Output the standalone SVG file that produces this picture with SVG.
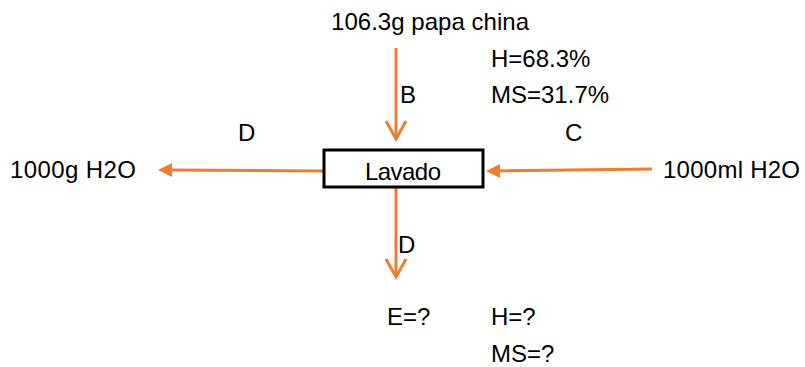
<svg xmlns="http://www.w3.org/2000/svg" width="805" height="367" viewBox="0 0 805 367">
  <style>
    text { font-family: "Liberation Sans", Arial, sans-serif; font-size: 24px; fill: #000; }
    .flow { stroke: #ED7D31; stroke-width: 3; fill: none; }
    .chev { stroke: #ED7D31; stroke-width: 3; fill: none; stroke-linejoin: miter; }
    .tri { fill: #ED7D31; }
  </style>
  <rect width="805" height="367" fill="#fff"/>

  <g id="connectors">
    <!-- feed: papa china into Lavado -->
    <line class="flow" x1="396" y1="48" x2="396" y2="138"/>
    <polyline class="chev" points="386,121 396,139 406,121"/>
    <!-- product leaving downward -->
    <line class="flow" x1="396" y1="188" x2="396" y2="276"/>
    <polyline class="chev" points="386,259 396,277 406,259"/>
    <!-- water out to the left -->
    <line class="flow" x1="323" y1="171" x2="170" y2="170"/>
    <polygon class="tri" points="158,170 172,163 172,177"/>
    <!-- water in from the right -->
    <line class="flow" x1="652" y1="169" x2="498" y2="171"/>
    <polygon class="tri" points="486,171 500,164 500,178"/>
  </g>

  <g id="lavado">
    <rect x="324" y="150" width="159" height="37" fill="#fff" stroke="#000" stroke-width="3"/>
    <text x="403" y="180" text-anchor="middle" textLength="76">Lavado</text>
  </g>

  <g id="feed">
    <text x="331" y="30" textLength="198">106.3g papa china</text>
    <text x="491" y="67">H=68.3%</text>
    <text x="491" y="103">MS=31.7%</text>
  </g>

  <g id="water-out">
    <text x="10" y="178" textLength="126">1000g H2O</text>
  </g>

  <g id="water-in">
    <text x="663" y="178" textLength="137">1000ml H2O</text>
  </g>

  <g id="product">
    <text x="387" y="325">E=?</text>
    <text x="491" y="325">H=?</text>
    <text x="491" y="362">MS=?</text>
  </g>

  <g id="labels">
    <text x="400" y="103">B</text>
    <text x="238" y="141">D</text>
    <text x="565" y="141">C</text>
    <text x="398" y="253">D</text>
  </g>
</svg>
